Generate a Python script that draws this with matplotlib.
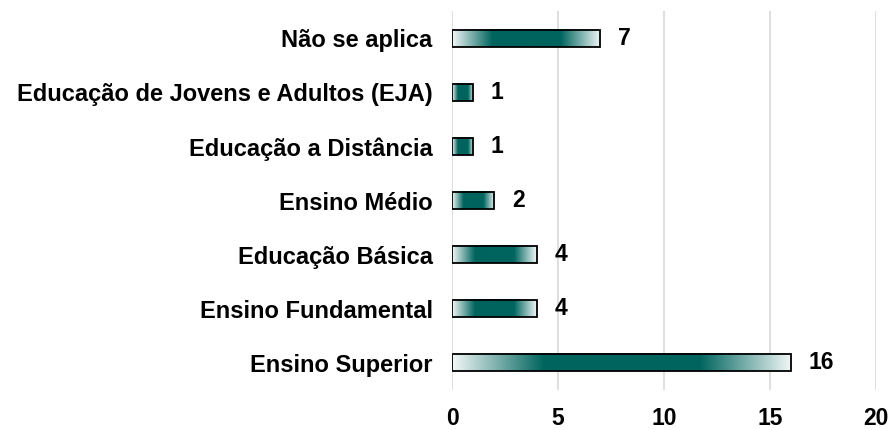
import numpy as np
import matplotlib.pyplot as plt
from matplotlib.colors import LinearSegmentedColormap

plt.rcParams['font.family'] = ['Liberation Sans', 'DejaVu Sans']
plt.rcParams['font.weight'] = 'bold'

categorias = ['Não se aplica', 'Educação de Jovens e Adultos (EJA)', 'Educação a Distância',
              'Ensino Médio', 'Educação Básica', 'Ensino Fundamental', 'Ensino Superior']
valores = [7, 1, 1, 2, 4, 4, 16]

teal = '#00645e'
cmap = LinearSegmentedColormap.from_list('grad', [(0, '#f2f8f7'), (0.27, teal), (0.73, teal), (1, '#f2f8f7')])
grad = np.linspace(0, 1, 256).reshape(1, -1)

fig = plt.figure(figsize=(8.94, 4.30), dpi=100)
ax = fig.add_axes([0.5056, 0.093, 0.4743, 0.8814])

pos = np.arange(len(categorias))
altura = 0.315
ax.barh(pos, valores, height=altura, facecolor='none', edgecolor='black', linewidth=1.3, zorder=3)
for y, v in zip(pos, valores):
    ax.imshow(grad, cmap=cmap, aspect='auto', extent=[0, v, y + altura / 2, y - altura / 2],
              zorder=2, interpolation='bilinear')
    ax.text(v + 0.82, y, str(v), va='center', ha='left', fontsize=16.5, fontweight='bold')

ax.set_xlim(0, 20)
ax.set_ylim(len(categorias) - 0.5, -0.5)
ax.set_xticks([0, 5, 10, 15, 20])
ax.set_yticks(pos)
ax.set_yticklabels(categorias, fontsize=17, fontweight='bold')
ax.tick_params(axis='x', length=0, pad=12, labelsize=16.5)
ax.tick_params(axis='y', length=0, pad=14)
for s in ax.spines.values():
    s.set_visible(False)
ax.grid(axis='x', color='#d9d9d9', linewidth=1.2, zorder=0)
ax.set_axisbelow(True)

fig.savefig('out.png', dpi=100)
